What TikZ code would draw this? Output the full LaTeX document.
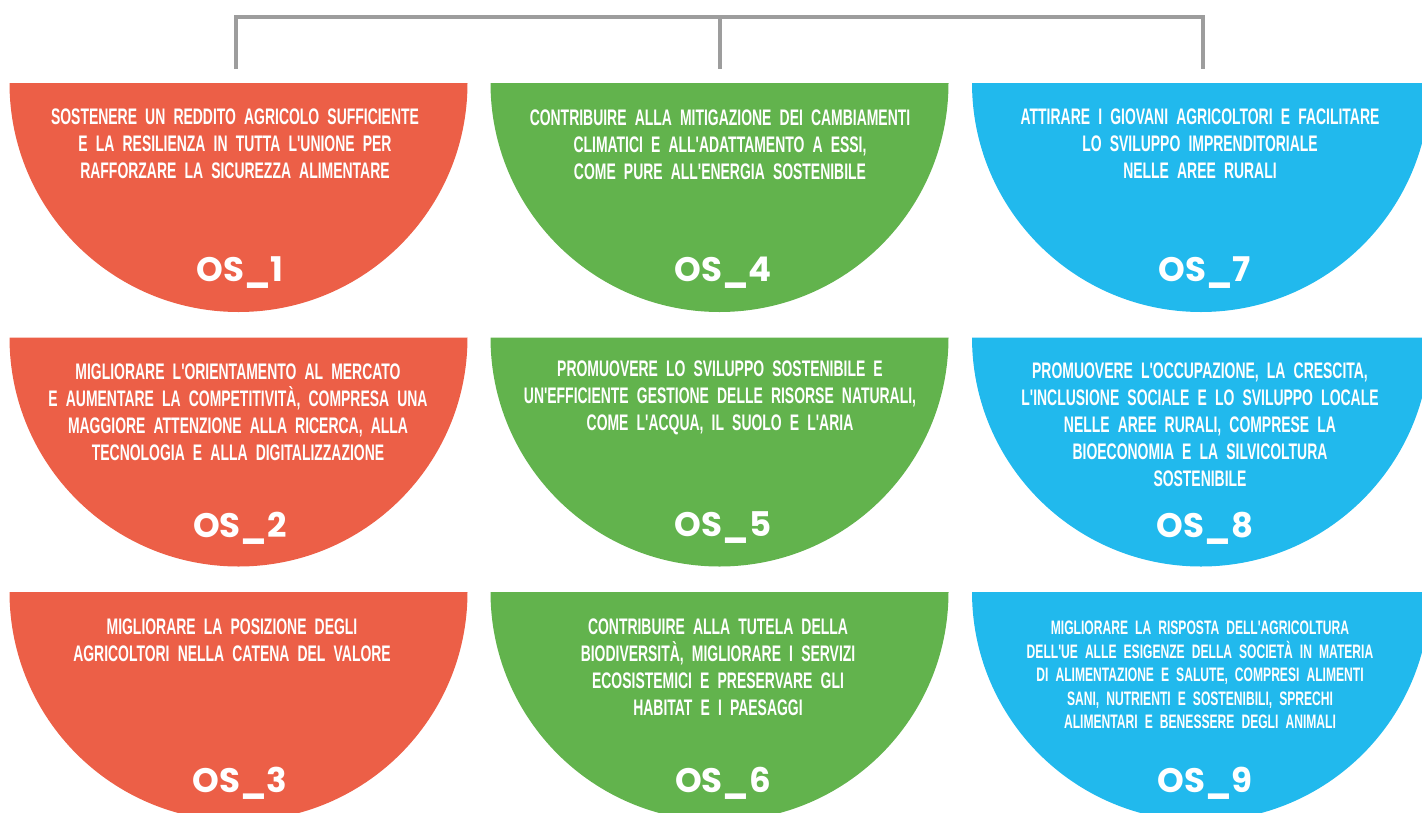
\documentclass[tikz,border=0pt]{standalone}
\usepackage{fontspec}
\newfontfamily\narrowfont{Liberation Sans}[FakeStretch=0.62,WordSpace=2.1,Ligatures=TeXOff]
\newfontfamily\osfont{Poppins}
\definecolor{osred}{HTML}{EC5F47}
\definecolor{osgreen}{HTML}{62B34D}
\definecolor{osblue}{HTML}{21B9ED}
\definecolor{linegray}{HTML}{9D9D9D}
\newcommand\halfdisk[3]{\fill[#3] ({#1-229},{-#2}) arc (180:360:229) -- cycle;}
\begin{document}
\begin{tikzpicture}[x=1pt,y=1pt,
  objtext/.style={text=white, align=center, inner sep=0pt,
    font=\narrowfont\bfseries\fontsize{22.5}{27}\selectfont},
  smalltext/.style={objtext, font=\narrowfont\bfseries\fontsize{19.5}{23.5}\selectfont},
  oslabel/.style={text=white, inner sep=0pt,
    font=\osfont\bfseries\fontsize{34}{40}\selectfont},
  bracket/.style={draw=linegray, line width=3.5pt}]
\useasboundingbox (0,0) rectangle (1422,-812);
% half disks
\halfdisk{238.5}{83}{osred}
\halfdisk{719.5}{83}{osgreen}
\halfdisk{1201}{83}{osblue}
\halfdisk{238.5}{337.5}{osred}
\halfdisk{719.5}{337.5}{osgreen}
\halfdisk{1201}{337.5}{osblue}
\halfdisk{238.5}{592}{osred}
\halfdisk{719.5}{592}{osgreen}
\halfdisk{1201}{592}{osblue}
% bracket
\coordinate (hubL) at (236,-17);
\coordinate (hubM) at (720,-17);
\coordinate (hubR) at (1203,-17);
\coordinate (dropL) at (236,-69);
\coordinate (dropM) at (720,-69);
\coordinate (dropR) at (1203,-69);
\draw[bracket] (dropL) -- (hubL) -- (hubR) -- (dropR);
\draw[bracket] (hubM) -- (dropM);
% texts
\node[objtext] (t1) at (235,-144) {SOSTENERE UN REDDITO AGRICOLO SUFFICIENTE\\E LA RESILIENZA IN TUTTA L'UNIONE PER\\RAFFORZARE LA SICUREZZA ALIMENTARE};
\node[objtext] (t4) at (720,-145) {CONTRIBUIRE ALLA MITIGAZIONE DEI CAMBIAMENTI\\CLIMATICI E ALL'ADATTAMENTO A ESSI,\\COME PURE ALL'ENERGIA SOSTENIBILE};
\node[objtext] (t7) at (1200,-144) {ATTIRARE I GIOVANI AGRICOLTORI E FACILITARE\\LO SVILUPPO IMPRENDITORIALE\\NELLE AREE RURALI};
\node[objtext] (t2) at (238,-412) {MIGLIORARE L'ORIENTAMENTO AL MERCATO\\E AUMENTARE LA COMPETITIVITÀ, COMPRESA UNA\\MAGGIORE ATTENZIONE ALLA RICERCA, ALLA\\TECNOLOGIA E ALLA DIGITALIZZAZIONE};
\node[objtext] (t5) at (720,-398) {PROMUOVERE LO SVILUPPO SOSTENIBILE E\\UN'EFFICIENTE GESTIONE DELLE RISORSE NATURALI,\\COME L'ACQUA, IL SUOLO E L'ARIA};
\node[objtext] (t8) at (1200,-425) {PROMUOVERE L'OCCUPAZIONE, LA CRESCITA,\\L'INCLUSIONE SOCIALE E LO SVILUPPO LOCALE\\NELLE AREE RURALI, COMPRESE LA\\BIOECONOMIA E LA SILVICOLTURA\\SOSTENIBILE};
\node[objtext] (t3) at (232,-640.5) {MIGLIORARE LA POSIZIONE DEGLI\\AGRICOLTORI NELLA CATENA DEL VALORE};
\node[objtext] (t6) at (718,-667) {CONTRIBUIRE ALLA TUTELA DELLA\\BIODIVERSITÀ, MIGLIORARE I SERVIZI\\ECOSISTEMICI E PRESERVARE GLI\\HABITAT E I PAESAGGI};
\node[smalltext] (t9) at (1200,-675) {MIGLIORARE LA RISPOSTA DELL'AGRICOLTURA\\DELL'UE ALLE ESIGENZE DELLA SOCIETÀ IN MATERIA\\DI ALIMENTAZIONE E SALUTE, COMPRESI ALIMENTI\\SANI, NUTRIENTI E SOSTENIBILI, SPRECHI\\ALIMENTARI E BENESSERE DEGLI ANIMALI};
% labels
\node[oslabel] (l1) at (240,-273) {OS\_1};
\node[oslabel] (l4) at (723,-273) {OS\_4};
\node[oslabel] (l7) at (1205,-273) {OS\_7};
\node[oslabel] (l2) at (240,-528) {OS\_2};
\node[oslabel] (l5) at (723,-528) {OS\_5};
\node[oslabel] (l8) at (1205,-528) {OS\_8};
\node[oslabel] (l3) at (240,-783) {OS\_3};
\node[oslabel] (l6) at (723,-783) {OS\_6};
\node[oslabel] (l9) at (1205,-783) {OS\_9};
\end{tikzpicture}
\end{document}
